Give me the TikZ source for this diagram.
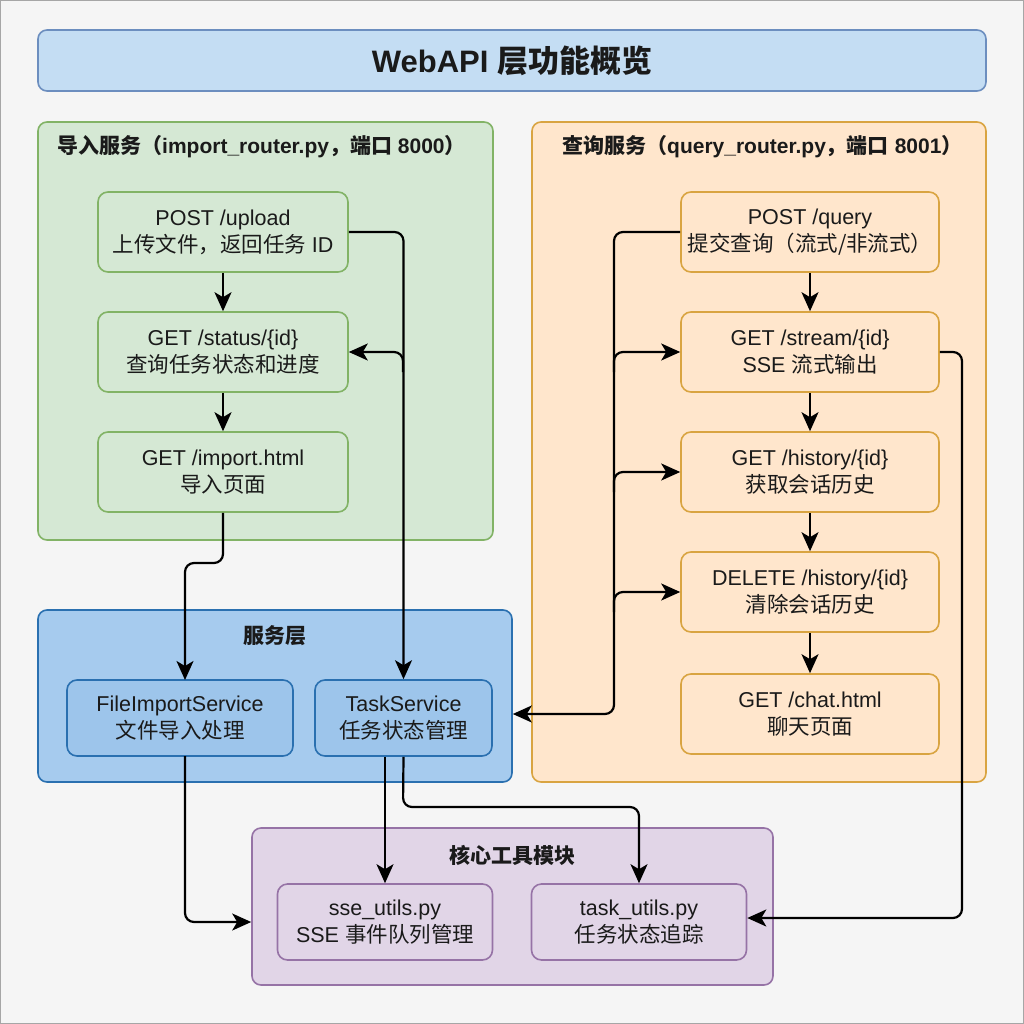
\documentclass[tikz,border=0pt]{standalone}
\usepackage{fontspec}
\setmainfont{Liberation Sans}
\newfontfamily\cjk{Noto Sans CJK SC}
\usetikzlibrary{arrows.meta,calc}
\definecolor{bgc}{HTML}{F5F5F5}
\definecolor{titlef}{HTML}{C4DDF3}
\definecolor{titled}{HTML}{6C8EBF}
\definecolor{greenf}{HTML}{D5E8D4}
\definecolor{greend}{HTML}{82B366}
\definecolor{orangef}{HTML}{FFE6CC}
\definecolor{oranged}{HTML}{D9A441}
\definecolor{bluef}{HTML}{A6CBEE}
\definecolor{blued}{HTML}{2A70B0}
\definecolor{bluenf}{HTML}{9DC5EB}
\definecolor{purplef}{HTML}{E1D5E7}
\definecolor{purpled}{HTML}{9673A6}
\definecolor{txt}{HTML}{1A1A1A}
\newcommand\zh[1]{{\cjk #1}}
\tikzset{
  grp/.style={draw, line width=1.6pt, rounded corners=9pt, inner sep=0pt},
  bodyfont/.style={font=\fontsize{21.5}{27}\selectfont},
  gnode/.style={draw=greend, fill=greenf, line width=1.6pt, rounded corners=10pt, minimum width=250pt, minimum height=80pt, align=center, text=txt, bodyfont},
  onode/.style={draw=oranged, fill=orangef, line width=1.6pt, rounded corners=10pt, minimum width=258pt, minimum height=80pt, align=center, text=txt, bodyfont},
  bnode/.style={draw=blued, fill=bluenf, line width=1.6pt, rounded corners=10pt, minimum height=76pt, align=center, text=txt, bodyfont},
  pnode/.style={draw=purpled, fill=purplef, line width=1.6pt, rounded corners=10pt, minimum width=215pt, minimum height=76pt, align=center, text=txt, bodyfont},
  glabel/.style={text=txt, font=\fontsize{21}{25}\selectfont\bfseries, inner sep=0pt},
  arr/.style={draw=black, line width=2.2pt, rounded corners=9pt, -{Stealth[length=19pt,width=17pt,inset=5pt]}},
}
\begin{document}
\begin{tikzpicture}[x=1pt,y=-1pt]
\useasboundingbox (0,0) rectangle (1024,1024);
\fill[bgc] (0,0) rectangle (1024,1024);
\draw[gray!70, line width=1pt] (0.5,0.5) rectangle (1023.5,1023.5);

% title
\node[grp, draw=titled, fill=titlef, minimum width=948pt, minimum height=61pt, text=txt, font=\fontsize{31}{35}\selectfont\bfseries] (title) at (512,60.5) {WebAPI \zh{层功能概览}};

% groups
\node[grp, draw=greend, fill=greenf, minimum width=455pt, minimum height=418pt] (gimp) at (265.5,331) {};
\node[grp, draw=oranged, fill=orangef, minimum width=454pt, minimum height=660pt] (gqry) at (759,452) {};
\node[grp, draw=blued, fill=bluef, minimum width=474pt, minimum height=172pt] (gsvc) at (275,696) {};
\node[grp, draw=purpled, fill=purplef, minimum width=521pt, minimum height=157pt] (gcore) at (512.5,906.5) {};

\node[glabel, anchor=west] (limp) at (57,147) {\zh{导入服务（}import\_router.py\zh{，端口} 8000\zh{）}};
\node[glabel, anchor=west] (lqry) at (562,147) {\zh{查询服务（}query\_router.py\zh{，端口} 8001\zh{）}};
\node[glabel] (lsvc) at (275,636) {\zh{服务层}};
\node[glabel] (lcore) at (512,855) {\zh{核心工具模块}};

% import nodes
\node[gnode] (upload) at (223,232) {POST /upload\\\zh{上传文件，返回任务} ID};
\node[gnode] (status) at (223,352) {GET /status/\{id\}\\\zh{查询任务状态和进度}};
\node[gnode] (imp) at (223,472) {GET /import.html\\\zh{导入页面}};

% query nodes
\node[onode] (query) at (810,232) {POST /query\\\zh{提交查询（流式/非流式）}};
\node[onode] (stream) at (810,352) {GET /stream/\{id\}\\SSE \zh{流式输出}};
\node[onode] (hist) at (810,472) {GET /history/\{id\}\\\zh{获取会话历史}};
\node[onode] (del) at (810,592) {DELETE /history/\{id\}\\\zh{清除会话历史}};
\node[onode] (chat) at (810,714) {GET /chat.html\\\zh{聊天页面}};

% service nodes
\node[bnode, minimum width=226pt] (fis) at (180,718) {FileImportService\\\zh{文件导入处理}};
\node[bnode, minimum width=177pt] (ts) at (403.5,718) {TaskService\\\zh{任务状态管理}};

% core nodes
\node[pnode] (sse) at (385,922) {sse\_utils.py\\SSE \zh{事件队列管理}};
\node[pnode] (tu) at (639,922) {task\_utils.py\\\zh{任务状态追踪}};

% vertical chains
\draw[arr] (upload) -- (status);
\draw[arr] (status) -- (imp);
\draw[arr] (query) -- (stream);
\draw[arr] (stream) -- (hist);
\draw[arr] (hist) -- (del);
\draw[arr] (del) -- (chat);

% coordinates
\coordinate (ib) at (403,372);
\coordinate (impj) at (223,563);
\coordinate (fisin) at (185,680);
\coordinate (qx) at (614,714);
\coordinate (qb1) at (614,372);
\coordinate (qb2) at (614,492);
\coordinate (qb3) at (614,612);
\coordinate (sx) at (962,918);
\coordinate (tj) at (403,807);
\coordinate (fisout) at (185,756);

% import -> taskservice
\draw[arr] (upload.east) -| (ts.north);
\draw[arr] (ib) |- (status.east);
\draw[arr] (imp.south) -- (impj) -| (fisin);

% query -> service layer
\draw[arr] (query.west) -| (qx) -- (gsvc.east |- qx);
\draw[arr] (qb1) |- (stream.west);
\draw[arr] (qb2) |- (hist.west);
\draw[arr] (qb3) |- (del.west);

% stream -> task_utils
\draw[arr] (stream.east) -| (sx) -- (tu.east |- sx);

% services -> core
\draw[arr] (fisout) |- (gcore.west |- sse.west);
\draw[arr] (ts.south -| sse.north) -- (sse.north);
\draw[arr] (ts.south) -- (tj) -| (tu.north);
\end{tikzpicture}
\end{document}
